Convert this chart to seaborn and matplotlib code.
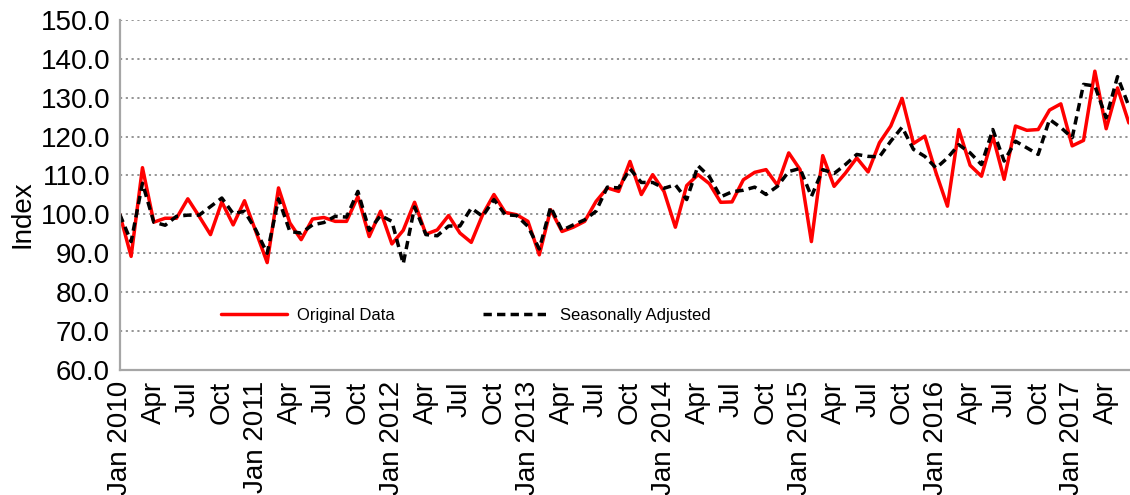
import numpy as np
import pandas as pd
import matplotlib
matplotlib.use("Agg")
import matplotlib.pyplot as plt
import seaborn as sns

# ---- data (monthly, Jan 2010 - Jun 2017) ----
original_data = [
    100.0, 89.2, 112.0, 98.0, 99.0, 99.0, 104.0, 99.5, 94.8, 103.2, 97.3, 103.5,
    95.6, 87.6, 106.8, 97.8, 93.5, 98.8, 99.2, 98.2, 98.2, 104.6, 94.3, 100.8,
    92.4, 95.9, 103.1, 94.9, 96.0, 99.7, 95.2, 92.8, 99.9, 105.1, 100.5, 99.9,
    98.2, 89.6, 101.2, 95.6, 96.7, 98.2, 103.3, 106.8, 105.9, 113.6, 105.1, 110.2,
    105.9, 96.7, 107.4, 110.2, 107.9, 103.1, 103.2, 108.9, 110.8, 111.5, 107.5, 115.8,
    111.5, 93.0, 115.1, 107.2, 110.6, 114.5, 110.9, 118.4, 122.7, 129.8, 118.2, 120.1,
    110.6, 102.1, 121.8, 112.6, 109.8, 120.1, 109.0, 122.7, 121.6, 121.8, 126.8, 128.4,
    117.6, 119.0, 136.8, 122.0, 132.5, 123.5,
]
seasonally_adjusted = [
    100.0, 93.0, 108.0, 98.0, 97.2, 99.5, 99.8, 99.8, 102.0, 104.2, 100.2, 100.8,
    96.0, 90.0, 104.0, 95.6, 95.2, 97.3, 97.9, 99.5, 99.3, 105.9, 95.9, 99.7,
    98.2, 87.3, 101.9, 94.8, 94.5, 97.0, 97.0, 101.6, 99.5, 103.8, 99.9, 99.7,
    96.9, 91.1, 101.9, 95.9, 97.3, 98.6, 100.8, 107.0, 106.8, 111.7, 108.2, 108.2,
    106.7, 107.6, 103.8, 112.5, 109.7, 104.5, 105.8, 106.2, 107.0, 105.1, 107.2, 111.0,
    111.8, 104.6, 111.5, 110.5, 112.8, 115.4, 114.9, 114.8, 118.8, 122.4, 116.7, 114.9,
    111.9, 114.5, 117.9, 115.8, 112.8, 121.8, 113.7, 118.8, 117.1, 115.4, 124.4, 122.3,
    119.7, 133.4, 133.0, 124.8, 135.4, 127.8,
]
x_tick_labels = [
    "Jan 2010", "Apr", "Jul", "Oct",
    "Jan 2011", "Apr", "Jul", "Oct",
    "Jan 2012", "Apr", "Jul", "Oct",
    "Jan 2013", "Apr", "Jul", "Oct",
    "Jan 2014", "Apr", "Jul", "Oct",
    "Jan 2015", "Apr", "Jul", "Oct",
    "Jan 2016", "Apr", "Jul", "Oct",
    "Jan 2017", "Apr",
]
y_ticks = [60, 70, 80, 90, 100, 110, 120, 130, 140, 150]
series_names = ["Original Data", "Seasonally Adjusted"]

# ---- style ----
sns.set_style("white")
plt.rcParams["font.family"] = ["Liberation Sans", "DejaVu Sans"]
plt.rcParams["axes.labelcolor"] = "black"
plt.rcParams["text.color"] = "black"

fig, ax = plt.subplots(figsize=(11.3, 4.95), dpi=100)
fig.subplots_adjust(left=0.106, right=0.999, top=0.96, bottom=0.2525)

n = len(original_data)
df = pd.DataFrame({
    "t": np.arange(n),
    series_names[0]: original_data,
    series_names[1]: seasonally_adjusted,
})

sns.lineplot(data=df, x="t", y=series_names[0], color="#FF0000", lw=2.5,
             ax=ax, label=series_names[0])
sns.lineplot(data=df, x="t", y=series_names[1], color="black", lw=2.5,
             ax=ax, label=series_names[1])
ax.lines[1].set_dashes((2.4, 1.5))

ax.set_xlim(0, n - 1)
ax.set_ylim(60, 150)

ax.set_yticks(y_ticks)
ax.set_yticklabels([f"{v:.1f}" for v in y_ticks])
ax.set_xticks(np.arange(0, n, 3))
ax.set_xticklabels(x_tick_labels, rotation=90)
ax.set_xticks(np.arange(n), minor=True)

ax.tick_params(axis="both", which="both", direction="out", color="#A6A6A6",
               width=1.2, labelsize=20, labelcolor="black")
ax.tick_params(axis="y", length=6, pad=1)
ax.tick_params(axis="x", which="both", length=5, pad=3)

ax.yaxis.grid(True, linestyle=(0, (1.2, 2.0)), color="#8C8C8C", lw=1.3)
ax.xaxis.grid(False)

for s in ["top", "right"]:
    ax.spines[s].set_visible(False)
for s in ["left", "bottom"]:
    ax.spines[s].set_color("#A6A6A6")
    ax.spines[s].set_linewidth(1.6)

ax.set_xlabel("")
ax.set_ylabel("Index", fontsize=20, color="black")
ax.yaxis.set_label_coords(-0.084, 0.446)

leg = ax.legend(loc="center left", bbox_to_anchor=(0.1, 0.157), ncol=2,
                frameon=False, fontsize=12, handlelength=4.0,
                handletextpad=0.6, columnspacing=5.3, borderpad=0,
                borderaxespad=0)
for t in leg.get_texts():
    t.set_color("black")
leg.get_lines()[1].set_dashes((2.4, 1.5))

fig.savefig("out.png", dpi=100)
